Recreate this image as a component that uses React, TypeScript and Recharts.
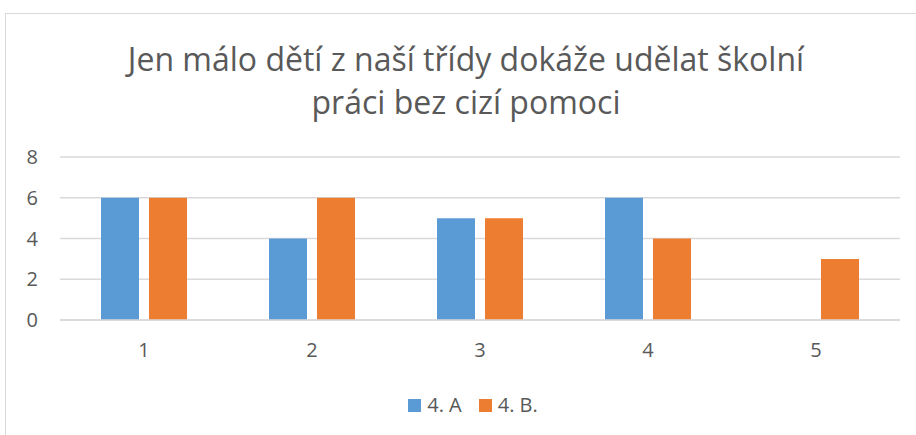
import React from 'react';
import { BarChart, Bar, XAxis, YAxis, CartesianGrid, Legend } from 'recharts';

const categories = ['1', '2', '3', '4', '5'];
const classA = [6, 4, 5, 6, 0];
const classB = [6, 6, 5, 4, 3];
const yTicks = [0, 2, 4, 6, 8];
const seriesNames = ['4. A', '4. B.'];

const data = categories.map((c, i) => ({ name: c, a: classA[i], b: classB[i] }));

const textColor = '#595959';
const font = "'Open Sans', 'Noto Sans', sans-serif";

const LegendContent = ({ payload }: any) => (
  <div style={{ display: 'flex', justifyContent: 'center', fontFamily: font, fontSize: 20, lineHeight: '26px', color: textColor }}>
    {(payload || []).map((p: any, i: number) => (
      <div key={i} style={{ display: 'flex', alignItems: 'center', marginRight: i === 0 ? 17 : 0 }}>
        <span style={{ width: 13, height: 13, background: p.color, display: 'inline-block', marginRight: 6 }} />
        <span>{p.value}</span>
      </div>
    ))}
  </div>
);

export default function App() {
  return (
    <div style={{ position: 'absolute', left: 0, top: 0, width: 916, height: 435, overflow: 'hidden', background: '#fff' }}>
      <div
        style={{
          position: 'absolute', left: 5, top: 13, width: 960, height: 460,
          border: '1px solid #d9d9d9', boxSizing: 'border-box',
        }}
      />
      <div
        style={{
          position: 'absolute', left: 5, top: 37, width: 922, textAlign: 'center',
          fontFamily: font, fontSize: 32, lineHeight: '43px', color: textColor,
        }}
      >
        Jen málo dětí z naší třídy dokáže udělat školní
        <br />
        práci bez cizí pomoci
      </div>
      <div style={{ position: 'absolute', left: 0, top: 0 }}>
        <BarChart
          width={916}
          height={435}
          data={data}
          margin={{ top: 157, right: 16, bottom: 75, left: 0 }}
          barSize={38}
          barGap={10}
        >
          <CartesianGrid vertical={false} stroke="#d9d9d9" strokeWidth={1.3} />
          <XAxis
            dataKey="name"
            height={40}
            axisLine={{ stroke: '#d9d9d9', strokeWidth: 1.3 }}
            tickLine={false}
            tickMargin={17}
            tick={{ fill: textColor, fontSize: 20, fontFamily: font }}
          />
          <YAxis
            width={60}
            domain={[0, 8]}
            ticks={yTicks}
            axisLine={false}
            tickLine={false}
            tickMargin={16}
            tick={{ fill: textColor, fontSize: 20, fontFamily: font }}
          />
          <Legend
            layout="horizontal"
            verticalAlign="middle"
            align="center"
            wrapperStyle={{ top: 392, left: 15, width: 916 }}
            content={<LegendContent />}
          />
          <Bar dataKey="a" name={seriesNames[0]} fill="#5B9BD5" isAnimationActive={false} />
          <Bar dataKey="b" name={seriesNames[1]} fill="#ED7D31" isAnimationActive={false} />
        </BarChart>
      </div>
    </div>
  );
}
